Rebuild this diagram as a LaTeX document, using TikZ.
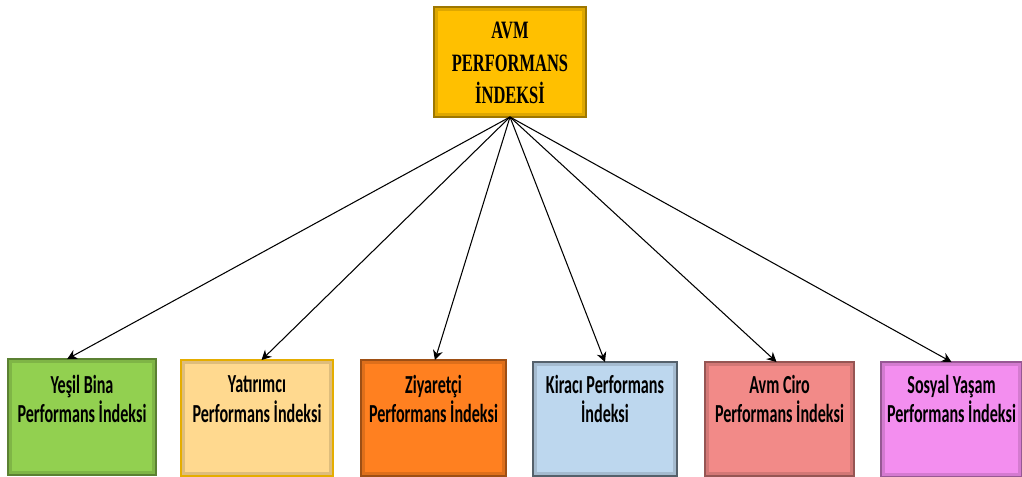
\documentclass[tikz,border=0pt]{standalone}
\usepackage{fontspec}
\usetikzlibrary{arrows.meta,calc}
\newfontfamily\headfont[FakeStretch=0.66]{Liberation Serif}
\newfontfamily\cellfont[FakeStretch=0.62]{Carlito}

\definecolor{gold}{HTML}{FFC000}
\definecolor{leaf}{HTML}{92D050}
\definecolor{peach}{HTML}{FFD98F}
\definecolor{tangerine}{HTML}{FF8020}
\definecolor{sky}{HTML}{BDD7EE}
\definecolor{salmon}{HTML}{F28A88}
\definecolor{orchid}{HTML}{F38EEF}

\begin{document}
\begin{tikzpicture}[x=0.02cm, y=-0.02cm,
  pbox/.style={fill=#1, draw=#1!62!black, line width=0.8pt, inner sep=0pt, outer sep=0pt},
  headtext/.style={inner sep=0pt, align=center, font=\headfont\bfseries\fontsize{14.2}{18.4}\selectfont},
  celltext/.style={inner sep=0pt, align=center, font=\cellfont\bfseries\fontsize{14.8}{17}\selectfont},
  conn/.style={line width=0.6pt, -{Stealth[length=5.5pt, width=5.6pt]}},
  shade/.style={draw=#1!72!black, opacity=0.45, line width=1.6pt}]
\useasboundingbox (0,0) rectangle (1022,477);

% main index box
\node[pbox=gold, minimum width=3.04cm, minimum height=2.2cm] (top) at (510,62) {};

% sub-index boxes
\node[pbox=leaf,      minimum width=2.96cm, minimum height=2.32cm] (b1) at (82,417)    {};
\node[pbox=peach,     minimum width=3.04cm, minimum height=2.32cm, draw=gold!90!black] (b2) at (257,418) {};
\node[pbox=tangerine, minimum width=2.90cm, minimum height=2.32cm] (b3) at (433.5,418) {};
\node[pbox=sky,       minimum width=2.88cm, minimum height=2.28cm, draw=sky!45!black] (b4) at (605,419) {};
\node[pbox=salmon,    minimum width=2.98cm, minimum height=2.28cm] (b5) at (779.5,419) {};
\node[pbox=orchid,    minimum width=2.82cm, minimum height=2.30cm] (b6) at (951.5,419.5) {};

% soft dark band inside each frame
\foreach \n/\c in {top/gold, b1/leaf, b2/peach, b3/tangerine, b4/sky, b5/salmon, b6/orchid}
  \draw[shade=\c] ([shift={(2.5,2.5)}]\n.north west) rectangle ([shift={(-2.5,-2.5)}]\n.south east);

% labels
\node[headtext] (ttop) at (510,63) {AVM\\PERFORMANS\\İNDEKSİ};
\node[celltext] (t1) at (82,399)    {Yeşil Bina\\Performans İndeksi};
\node[celltext] (t2) at (257,399)   {Yatırımcı\\Performans İndeksi};
\node[celltext] (t3) at (433.5,399) {Ziyaretçi\\Performans İndeksi};
\node[celltext] (t4) at (605,399)   {Kiracı Performans\\İndeksi};
\node[celltext] (t5) at (779.5,399) {Avm Ciro\\Performans İndeksi};
\node[celltext] (t6) at (951.5,399) {Sosyal Yaşam\\Performans İndeksi};

% connectors from the main index to each sub-index
\foreach \n/\t in {b1/0.40, b2/0.53, b3/0.51, b4/0.50, b5/0.48, b6/0.50}
  \draw[conn] (top.south) -- ($(\n.north west)!\t!(\n.north east)$);
\end{tikzpicture}
\end{document}
